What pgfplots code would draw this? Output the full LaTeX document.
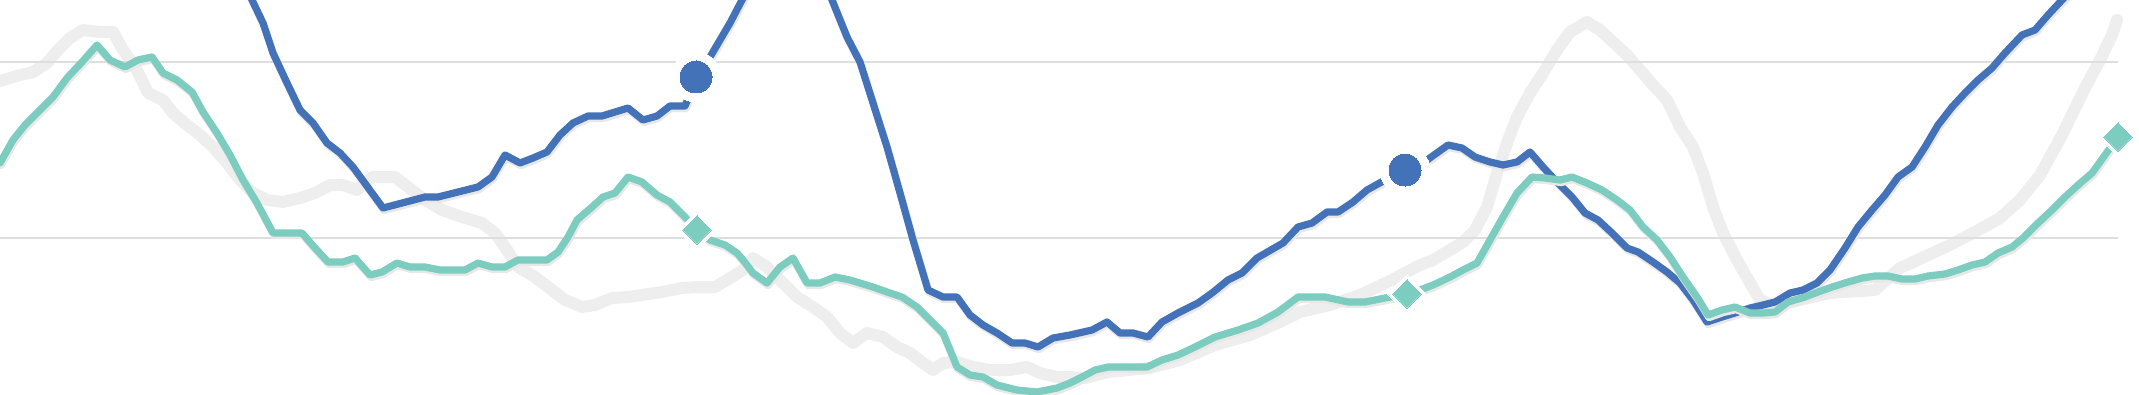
\documentclass[border=0pt]{standalone}
\usepackage{pgfplots}
\pgfplotsset{compat=1.18}
\definecolor{cblue}{RGB}{68,114,185}
\definecolor{cteal}{RGB}{124,205,191}
\definecolor{cgray}{RGB}{238,238,238}
\definecolor{cgrid}{RGB}{222,222,222}
\pgfplotstableread{
x y
0 81
20 75
33 72
47 63
58 50
70 38
83 30
100 32
113 32
123 50
137 70
148 93
163 100
173 113
187 125
200 135
213 147
227 163
240 180
253 193
267 200
283 202
300 198
315 193
330 185
343 185
357 190
372 177
395 177
408 187
425 200
442 210
462 217
482 223
495 233
505 247
518 267
535 277
548 287
565 300
582 307
595 305
612 298
628 297
642 295
662 292
682 288
698 287
715 287
727 280
743 270
753 258
767 267
783 283
797 297
813 307
827 317
840 333
853 343
867 333
883 337
897 347
910 353
923 363
933 370
943 363
957 362
973 367
990 370
1010 370
1027 367
1040 373
1057 377
1070 377
1085 378
1108 372
1150 368
1180 360
1215 345
1250 335
1280 322
1300 312
1330 305
1360 295
1392 280
1420 265
1433 260
1450 250
1463 242
1475 230
1487 207
1497 173
1507 143
1517 117
1530 93
1543 73
1557 50
1570 32
1587 22
1600 30
1613 42
1627 55
1640 70
1653 85
1667 100
1680 127
1693 147
1703 173
1713 207
1723 233
1737 260
1750 283
1760 300
1775 306
1800 300
1830 293
1860 291
1875 290
1900 268
1924 257
1950 245
1975 232
2000 218
2020 200
2040 175
2062 135
2085 88
2100 60
2112 35
2117 20
}\graydata
\pgfplotstableread{
x y
240 -30
252 0
263 23
273 53
287 83
300 110
313 123
327 143
340 153
353 167
383 208
425 197
438 197
478 187
492 177
505 155
520 163
533 158
547 152
560 135
573 123
588 116
602 116
628 108
643 120
657 116
670 106
685 106
697 77
710 57
720 40
730 23
742 0
765 -40
790 -80
815 -50
832 0
847 37
860 62
873 103
887 147
900 193
913 240
928 290
943 297
957 297
970 315
983 325
997 333
1012 343
1025 343
1038 347
1053 338
1070 335
1092 330
1107 322
1120 333
1133 333
1148 337
1162 322
1178 313
1198 303
1212 293
1228 280
1242 273
1257 258
1283 243
1298 227
1312 223
1327 212
1338 212
1353 202
1367 190
1385 180
1405 170
1427 160
1448 145
1462 148
1475 157
1490 162
1503 165
1517 162
1530 152
1543 167
1557 182
1572 197
1585 213
1598 220
1612 233
1627 248
1638 252
1653 262
1667 272
1680 283
1693 300
1707 322
1722 317
1735 313
1750 308
1763 305
1775 302
1790 293
1803 290
1817 283
1830 270
1845 248
1858 227
1872 210
1885 195
1898 177
1912 167
1925 147
1938 125
1952 107
1965 93
1978 80
1992 68
2005 53
2022 35
2035 30
2048 15
2062 0
2090 -30
2118 -60
}\bluedata
\pgfplotstableread{
x y
0 163
13 140
25 125
38 112
53 97
67 78
82 62
97 45
110 60
125 67
138 60
152 57
163 73
177 80
192 92
203 112
217 133
230 155
243 180
257 203
273 233
302 233
315 248
328 262
343 262
355 258
370 275
382 272
397 263
410 267
425 267
440 270
465 270
478 263
492 267
505 267
518 260
547 260
558 252
568 237
577 220
592 207
603 197
615 193
628 177
642 182
657 195
670 202
685 217
697 230
710 240
725 245
737 253
743 260
753 273
767 283
780 267
793 258
807 283
820 283
835 277
850 280
873 287
887 292
902 297
917 307
930 320
943 333
950 350
957 367
970 375
983 377
997 385
1017 390
1037 392
1057 388
1070 383
1082 377
1095 370
1108 367
1147 367
1162 360
1178 355
1195 347
1215 337
1238 330
1258 323
1278 312
1298 297
1325 297
1348 302
1365 302
1385 298
1407 294
1420 290
1433 285
1450 277
1463 270
1477 263
1490 240
1503 217
1517 193
1532 177
1545 178
1560 180
1572 177
1587 183
1602 190
1617 200
1630 210
1643 227
1657 240
1670 257
1683 277
1697 297
1708 315
1722 310
1735 307
1750 313
1763 313
1775 312
1788 302
1805 297
1818 292
1832 287
1848 282
1862 278
1875 276
1888 276
1902 279
1915 279
1928 276
1945 274
1958 270
1972 265
1985 262
1998 253
2012 247
2023 238
2038 223
2052 210
2065 197
2078 185
2092 173
2105 155
2118 137
}\tealdata
\begin{document}
\begin{tikzpicture}
\begin{axis}[
  scale only axis, width=534.75pt, height=98.75pt,
  xmin=0, xmax=2139, ymin=0, ymax=395, y dir=reverse,
  hide axis, clip=true,
  every axis plot/.append style={line join=round, line cap=round},
]
\coordinate (SW) at (rel axis cs:0,0);
\coordinate (NE) at (rel axis cs:1,1);
% gray reference line
\addplot[cgray, line width=3pt, mark=none] table[x=x,y=y] {\graydata};
% grid lines
\addplot[cgrid, line width=0.4pt, mark=none, line cap=butt] coordinates {(0,62) (2118,62)};
\addplot[cgrid, line width=0.4pt, mark=none, line cap=butt] coordinates {(0,238) (2118,238)};
% blue series shadow + line
\addplot[black!9, line width=1.9pt, mark=none, yshift=-0.6pt, xshift=0.25pt] table[x=x,y=y] {\bluedata};
\addplot[cblue, line width=1.8pt, mark=none] table[x=x,y=y] {\bluedata};
% teal series shadow + line
\addplot[black!9, line width=1.9pt, mark=none, yshift=-0.6pt, xshift=0.25pt] table[x=x,y=y] {\tealdata};
\addplot[cteal, line width=1.8pt, mark=none] table[x=x,y=y] {\tealdata};
% markers: white halos
\addplot[white, line width=0pt, only marks, mark=*, mark size=6.25pt, mark options={draw=white, fill=white, line width=0pt}] coordinates {(696,77) (1405,170)};
\addplot[white, line width=0pt, only marks, mark=square*, mark size=3.4pt, mark options={draw=white, fill=white, line width=0pt, rotate=45}] coordinates {(697,230) (1407,294) (2118,137)};
% markers
\addplot[cblue, only marks, mark=*, mark size=4pt, mark options={draw=cblue, fill=cblue, line width=0pt}] coordinates {(696,77) (1405,170)};
\addplot[cteal, only marks, mark=square*, mark size=2.5pt, mark options={draw=cteal, fill=cteal, line width=0pt, rotate=45}] coordinates {(697,230) (1407,294) (2118,137)};
\end{axis}
\pgfresetboundingbox
\path (SW) rectangle (NE);
\end{tikzpicture}
\end{document}
